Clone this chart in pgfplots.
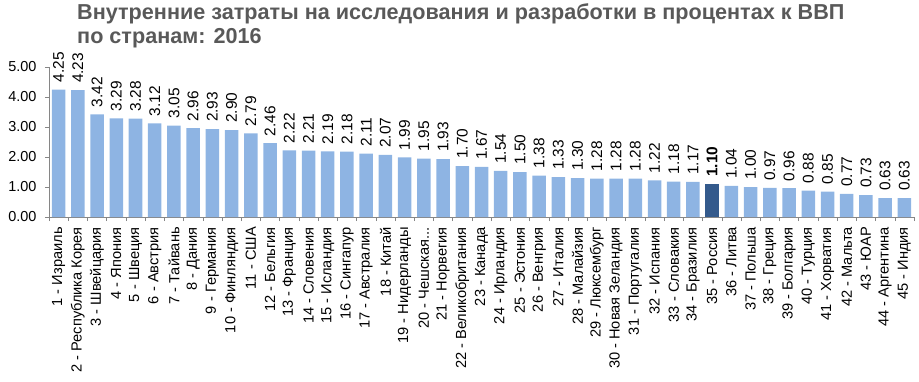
\documentclass[border=0pt]{standalone}
\usepackage{pgfplots}
\pgfplotsset{compat=1.18}
\usepackage{pgfplotstable}
\usepackage{fontspec}
\setmainfont{Liberation Sans}
\definecolor{barlight}{RGB}{142,180,227}
\definecolor{bardark}{RGB}{52,90,140}
\definecolor{titlegray}{RGB}{89,89,89}
\definecolor{axisgray}{RGB}{134,134,134}
\newcommand\mydots{...}
\pgfplotstableread{
x y
0 4.25
1 4.23
2 3.42
3 3.29
4 3.28
5 3.12
6 3.05
7 2.96
8 2.93
9 2.90
10 2.79
11 2.46
12 2.22
13 2.21
14 2.19
15 2.18
16 2.11
17 2.07
18 1.99
19 1.95
20 1.93
21 1.70
22 1.67
23 1.54
24 1.50
25 1.38
26 1.33
27 1.30
28 1.28
29 1.28
30 1.28
31 1.22
32 1.18
33 1.17
35 1.04
36 1.00
37 0.97
38 0.96
39 0.88
40 0.85
41 0.77
42 0.73
43 0.63
44 0.63
}\datamain
\pgfplotstableread{
x y
34 1.10
}\datarussia
\begin{document}
\begin{tikzpicture}
\path (-49bp,-165bp) rectangle (870bp,217bp);
\node[anchor=north west, align=left, inner sep=0pt, text=titlegray,
      font=\fontsize{21.7}{24}\selectfont\bfseries] at (28bp,213.5bp)
  {Внутренние затраты на исследования и разработки в процентах к ВВП\\по странам: 2016};
\begin{axis}[
  at={(0,0)}, anchor=south west,
  width=865bp, height=150bp, scale only axis,
  xmin=-0.5, xmax=44.5, ymin=0, ymax=5,
  axis x line*=bottom, axis y line*=left,
  axis line style={draw=axisgray},
  tick style={draw=axisgray, thin},
  tick align=outside,
  major tick length=4bp, minor tick length=4bp,
  /pgf/number format/assume math mode=true,
  ytick={0,1,2,3,4,5},
  yticklabel={\pgfmathprintnumber[fixed,fixed zerofill,precision=2]{\tick}},
  yticklabel style={font=\fontsize{14.5}{16}\selectfont, xshift=-5bp},
  xtick={0,...,44},
  every major x tick/.append style={draw=none},
  minor xtick={-0.5,0.5,...,44.5},
  xticklabels={{1 - Израиль},{2 - Республика Корея},{3 - Швейцария},{4 - Япония},{5 - Швеция},{6 - Австрия},{7 - Тайвань},{8 - Дания},{9 - Германия},{10 - Финляндия},{11 - США},{12 - Бельгия},{13 - Франция},{14 - Словения},{15 - Исландия},{16 - Сингапур},{17 - Австралия},{18 - Китай},{19 - Нидерланды},{20 - Чешская\mydots},{21 - Норвегия},{22 - Великобритания},{23 - Канада},{24 - Ирландия},{25 - Эстония},{26 - Венгрия},{27 - Италия},{28 - Малайзия},{29 - Люксембург},{30 - Новая Зеландия},{31 - Португалия},{32 - Испания},{33 - Словакия},{34 - Бразилия},{35 - Россия},{36 - Литва},{37 - Польша},{38 - Греция},{39 - Болгария},{40 - Турция},{41 - Хорватия},{42 - Мальта},{43 - ЮАР},{44 - Аргентина},{45 - Индия}},
  xticklabel style={rotate=90, anchor=east, font=\fontsize{14.7}{16}\selectfont, inner xsep=6bp},
  ybar, bar width=13.5bp,
  clip=false,
  nodes near coords={\pgfmathprintnumber[fixed,fixed zerofill,precision=2]{\pgfplotspointmeta}},
  every node near coord/.append style={rotate=90, anchor=west, inner xsep=7bp, inner ysep=0pt, font=\fontsize{15.5}{17}\selectfont, text=black},
]
\addplot[fill=barlight, draw=none, bar shift=0pt] table[x=x,y=y] {\datamain};
\addplot[fill=bardark, draw=none, bar shift=0pt,
  every node near coord/.append style={font=\bfseries\fontsize{15.5}{17}\selectfont}] table[x=x,y=y] {\datarussia};
\end{axis}
\end{tikzpicture}
\end{document}
